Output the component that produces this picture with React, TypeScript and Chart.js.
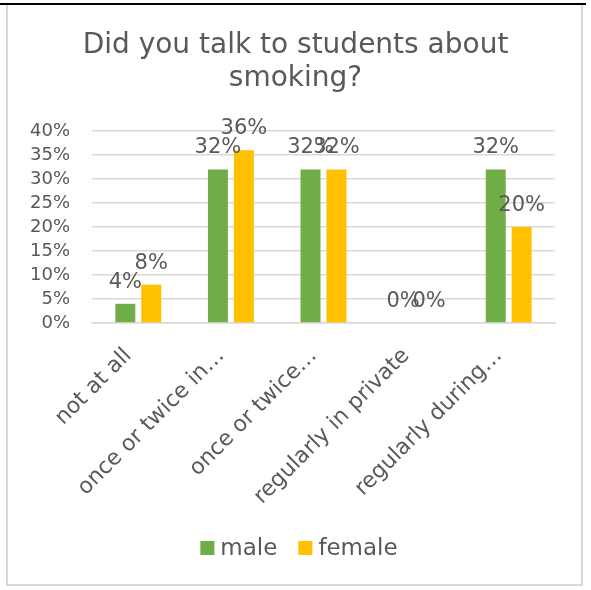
import React, { useEffect, useRef } from "react";
import { Chart, registerables } from "chart.js";

Chart.register(...registerables);

const categories = [
  "not at all",
  "once or twice in…",
  "once or twice…",
  "regularly in private",
  "regularly during…",
];
const maleValues = [4, 32, 32, 0, 32];
const femaleValues = [8, 36, 32, 0, 20];
const yTickMax = 40;
const yTickStep = 5;
const titleLines = ["Did you talk to students about", "smoking?"];
const seriesNames = ["male", "female"];
const seriesColors = ["#70AD47", "#FFC000"];

const FONT = "'DejaVu Sans', sans-serif";
const TEXT = "#595959";

const dataLabelPlugin = {
  id: "dataLabels",
  afterDatasetsDraw(chart: any) {
    const ctx = chart.ctx;
    ctx.save();
    ctx.font = `21px ${FONT}`;
    ctx.fillStyle = TEXT;
    ctx.textAlign = "center";
    ctx.textBaseline = "alphabetic";
    chart.data.datasets.forEach((ds: any, di: number) => {
      const meta = chart.getDatasetMeta(di);
      meta.data.forEach((el: any, i: number) => {
        ctx.fillText(`${ds.data[i]}%`, el.x, el.y - 16);
      });
    });
    ctx.restore();
  },
};

const titleLegendPlugin = {
  id: "titleLegend",
  afterDraw(chart: any) {
    const ctx = chart.ctx;
    const cx = chart.width / 2;
    ctx.save();
    // title
    ctx.fillStyle = TEXT;
    ctx.font = `28px ${FONT}`;
    ctx.textAlign = "center";
    ctx.textBaseline = "middle";
    titleLines.forEach((line, i) => ctx.fillText(line, cx, 46 + i * 33));
    // legend
    ctx.font = `23px ${FONT}`;
    ctx.textAlign = "left";
    const box = 14;
    const gapText = 6;
    const gapItem = 21;
    const widths = chart.data.datasets.map((ds: any) => ctx.measureText(ds.label).width);
    let total = 0;
    widths.forEach((w: number, i: number) => {
      total += box + gapText + w + (i < widths.length - 1 ? gapItem : 0);
    });
    let x = 299 - total / 2;
    const y = 548;
    chart.data.datasets.forEach((ds: any, i: number) => {
      ctx.fillStyle = ds.backgroundColor;
      ctx.fillRect(x, y - box / 2, box, box);
      x += box + gapText;
      ctx.fillStyle = TEXT;
      ctx.fillText(ds.label, x, y + 1);
      x += widths[i] + gapItem;
    });
    ctx.restore();
  },
};

export default function App() {
  const ref = useRef<HTMLCanvasElement>(null);
  useEffect(() => {
    const chart = new Chart(ref.current!, {
      type: "bar",
      data: {
        labels: categories,
        datasets: [
          {
            label: seriesNames[0],
            data: maleValues,
            backgroundColor: seriesColors[0],
            categoryPercentage: 0.56,
            barPercentage: 0.77,
          },
          {
            label: seriesNames[1],
            data: femaleValues,
            backgroundColor: seriesColors[1],
            categoryPercentage: 0.56,
            barPercentage: 0.77,
          },
        ],
      },
      options: {
        animation: false,
        responsive: false,
        maintainAspectRatio: false,
        layout: { padding: { left: 8, right: 36, top: 131, bottom: 60 } },
        plugins: {
          title: { display: false },
          legend: { display: false },
          tooltip: { enabled: false },
        },
        scales: {
          x: {
            grid: { display: false },
            border: { color: "#d9d9d9", width: 1.5 },
            ticks: {
              color: TEXT,
              font: { family: FONT, size: 22 },
              minRotation: 45,
              maxRotation: 45,
              autoSkip: false,
              padding: 12,
              labelOffset: -10,
            },
            afterFit(scale: any) {
              scale.height = 207;
            },
          },
          y: {
            min: 0,
            max: yTickMax,
            border: { display: false },
            grid: { color: "#d9d9d9", lineWidth: 1.5, drawTicks: false },
            ticks: {
              stepSize: yTickStep,
              autoSkip: false,
              color: TEXT,
              font: { family: FONT, size: 18 },
              padding: 22,
              callback: (v: any) => `${v}%`,
            },
            afterFit(scale: any) {
              scale.width = 84;
            },
          },
        },
      },
      plugins: [dataLabelPlugin, titleLegendPlugin],
    });
    return () => chart.destroy();
  }, []);

  return (
    <div style={{ position: "fixed", left: 0, top: 0, width: 591, height: 590, background: "#fff" }}>
      <div style={{ position: "absolute", left: 0, top: 3, width: 586, height: 2, background: "#000" }} />
      <div
        style={{
          position: "absolute",
          left: 6,
          top: 5,
          width: 577,
          height: 581,
          boxSizing: "border-box",
          border: "2px solid #d9d9d9",
          borderTop: "none",
        }}
      />
      <canvas ref={ref} width={591} height={590} style={{ position: "absolute", left: 0, top: 0 }} />
    </div>
  );
}
